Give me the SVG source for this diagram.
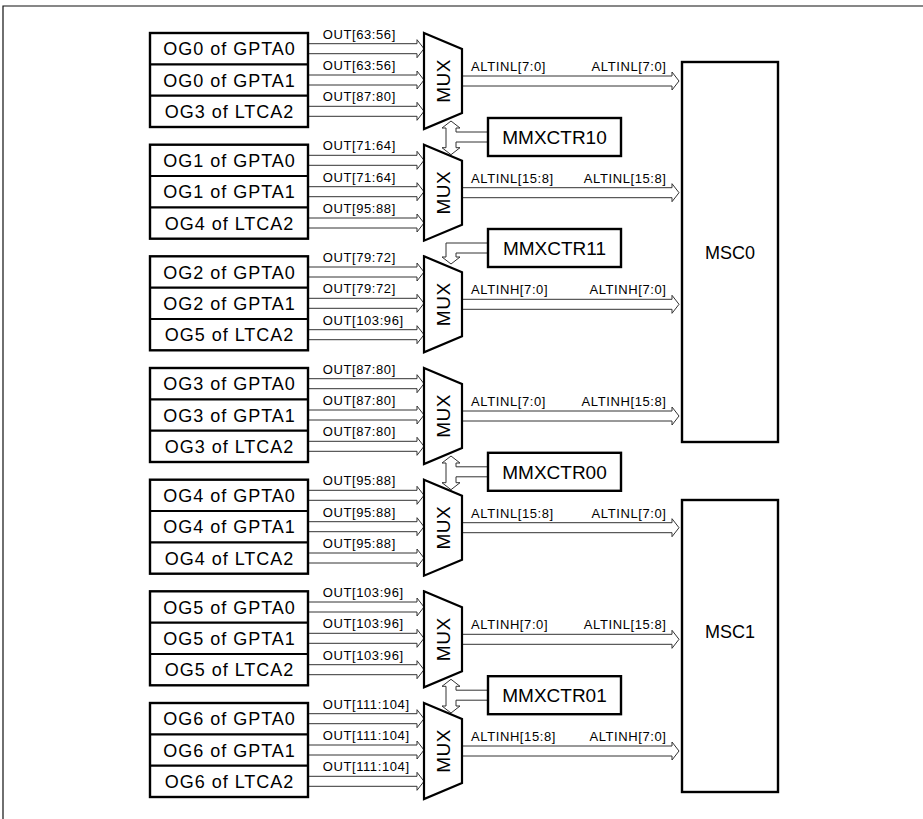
<svg xmlns="http://www.w3.org/2000/svg" width="923" height="819" viewBox="0 0 923 819">
<style>
.frame{fill:none;stroke:#111;stroke-width:1.2}
.box{fill:#fff;stroke:#000;stroke-width:2.4}
.div{stroke:#000;stroke-width:2.2}
.mux{fill:#fff;stroke:#000;stroke-width:2.2;stroke-linejoin:miter}
.bus{fill:#fff;stroke:#333;stroke-width:1}
text{font-family:"Liberation Sans",Arial,sans-serif;fill:#000}
.og{font-size:18px;letter-spacing:1px;text-anchor:middle}
.sm{font-size:13px;letter-spacing:0.6px}
.end{text-anchor:end}
.mx{font-size:19px;letter-spacing:0.5px;text-anchor:middle}
.ctr{font-size:19px;text-anchor:middle}
.msc{font-size:18px;text-anchor:middle}
</style>
<path class="frame" d="M3,819 V6 H923"/>

<g id="connectors">
<path class="bus" d="M309,43.7 H417 V39.7 L424,48.7 L417,57.7 V53.7 H309"/>
<path class="bus" d="M309,75 H417 V71 L424,80 L417,89 V85 H309"/>
<path class="bus" d="M309,106.3 H417 V102.3 L424,111.3 L417,120.3 V116.3 H309"/>
<path class="bus" d="M309,155.3 H417 V151.3 L424,160.3 L417,169.3 V165.3 H309"/>
<path class="bus" d="M309,186.7 H417 V182.7 L424,191.7 L417,200.7 V196.7 H309"/>
<path class="bus" d="M309,218 H417 V214 L424,223 L417,232 V228 H309"/>
<path class="bus" d="M309,267 H417 V263 L424,272 L417,281 V277 H309"/>
<path class="bus" d="M309,298.3 H417 V294.3 L424,303.3 L417,312.3 V308.3 H309"/>
<path class="bus" d="M309,329.7 H417 V325.7 L424,334.7 L417,343.7 V339.7 H309"/>
<path class="bus" d="M309,378.7 H417 V374.7 L424,383.7 L417,392.7 V388.7 H309"/>
<path class="bus" d="M309,410 H417 V406 L424,415 L417,424 V420 H309"/>
<path class="bus" d="M309,441.3 H417 V437.3 L424,446.3 L417,455.3 V451.3 H309"/>
<path class="bus" d="M309,490.3 H417 V486.3 L424,495.3 L417,504.3 V500.3 H309"/>
<path class="bus" d="M309,521.7 H417 V517.7 L424,526.7 L417,535.7 V531.7 H309"/>
<path class="bus" d="M309,553 H417 V549 L424,558 L417,567 V563 H309"/>
<path class="bus" d="M309,602 H417 V598 L424,607 L417,616 V612 H309"/>
<path class="bus" d="M309,633.3 H417 V629.3 L424,638.3 L417,647.3 V643.3 H309"/>
<path class="bus" d="M309,664.7 H417 V660.7 L424,669.7 L417,678.7 V674.7 H309"/>
<path class="bus" d="M309,713.7 H417 V709.7 L424,718.7 L417,727.7 V723.7 H309"/>
<path class="bus" d="M309,745 H417 V741 L424,750 L417,759 V755 H309"/>
<path class="bus" d="M309,776.3 H417 V772.3 L424,781.3 L417,790.3 V786.3 H309"/>

<path class="bus" d="M463,76 H672 V72 L679,81 L672,90 V86 H463"/>
<path class="bus" d="M463,187.7 H672 V183.7 L679,192.7 L672,201.7 V197.7 H463"/>
<path class="bus" d="M463,299.3 H672 V295.3 L679,304.3 L672,313.3 V309.3 H463"/>
<path class="bus" d="M463,411 H672 V407 L679,416 L672,425 V421 H463"/>
<path class="bus" d="M463,522.7 H672 V518.7 L679,527.7 L672,536.7 V532.7 H463"/>
<path class="bus" d="M463,634.3 H672 V630.3 L679,639.3 L672,648.3 V644.3 H463"/>
<path class="bus" d="M463,746 H672 V742 L679,751 L672,760 V756 H463"/>

<path class="bus" d="M488,132 H456 V128 H460 L451,121 L442,128 H446 V147.7 H442 L451,154.7 L460,147.7 H456 V142 H488"/>
<path class="bus" d="M488,243 H446 V257 H442 L451,264 L460,257 H456 V253 H488"/>
<path class="bus" d="M488,466.8 H456 V463 H460 L451,456 L442,463 H446 V482.7 H442 L451,489.7 L460,482.7 H456 V476.8 H488"/>
<path class="bus" d="M488,690.2 H456 V686.3 H460 L451,679.3 L442,686.3 H446 V706 H442 L451,713 L460,706 H456 V700.2 H488"/>

<text class="sm" x="322.7" y="38.7">OUT[63:56]</text>
<text class="sm" x="322.7" y="70">OUT[63:56]</text>
<text class="sm" x="322.7" y="101.3">OUT[87:80]</text>
<text class="sm" x="322.7" y="150.3">OUT[71:64]</text>
<text class="sm" x="322.7" y="181.7">OUT[71:64]</text>
<text class="sm" x="322.7" y="213">OUT[95:88]</text>
<text class="sm" x="322.7" y="262">OUT[79:72]</text>
<text class="sm" x="322.7" y="293.3">OUT[79:72]</text>
<text class="sm" x="322.7" y="324.7">OUT[103:96]</text>
<text class="sm" x="322.7" y="373.7">OUT[87:80]</text>
<text class="sm" x="322.7" y="405">OUT[87:80]</text>
<text class="sm" x="322.7" y="436.3">OUT[87:80]</text>
<text class="sm" x="322.7" y="485.3">OUT[95:88]</text>
<text class="sm" x="322.7" y="516.7">OUT[95:88]</text>
<text class="sm" x="322.7" y="548">OUT[95:88]</text>
<text class="sm" x="322.7" y="597">OUT[103:96]</text>
<text class="sm" x="322.7" y="628.3">OUT[103:96]</text>
<text class="sm" x="322.7" y="659.7">OUT[103:96]</text>
<text class="sm" x="322.7" y="708.7">OUT[111:104]</text>
<text class="sm" x="322.7" y="740">OUT[111:104]</text>
<text class="sm" x="322.7" y="771.3">OUT[111:104]</text>

<text class="sm" x="471" y="71">ALTINL[7:0]</text>
<text class="sm end" x="666.6" y="71">ALTINL[7:0]</text>
<text class="sm" x="471" y="182.7">ALTINL[15:8]</text>
<text class="sm end" x="666.6" y="182.7">ALTINL[15:8]</text>
<text class="sm" x="471" y="294.3">ALTINH[7:0]</text>
<text class="sm end" x="666.6" y="294.3">ALTINH[7:0]</text>
<text class="sm" x="471" y="406">ALTINL[7:0]</text>
<text class="sm end" x="666.6" y="406">ALTINH[15:8]</text>
<text class="sm" x="471" y="517.7">ALTINL[15:8]</text>
<text class="sm end" x="666.6" y="517.7">ALTINL[7:0]</text>
<text class="sm" x="471" y="629.3">ALTINH[7:0]</text>
<text class="sm end" x="666.6" y="629.3">ALTINL[15:8]</text>
<text class="sm" x="471" y="741">ALTINH[15:8]</text>
<text class="sm end" x="666.6" y="741">ALTINH[7:0]</text>
</g>

<g id="src0">
<rect class="box" x="150" y="33" width="158" height="94"/>
<line class="div" x1="150" y1="64.3" x2="308" y2="64.3"/>
<line class="div" x1="150" y1="95.7" x2="308" y2="95.7"/>
<text class="og" x="229.5" y="55.2">OG0 of GPTA0</text>
<text class="og" x="229.5" y="86.5">OG0 of GPTA1</text>
<text class="og" x="229.5" y="117.8">OG3 of LTCA2</text>
</g>
<g id="src1">
<rect class="box" x="150" y="144.7" width="158" height="94"/>
<line class="div" x1="150" y1="176" x2="308" y2="176"/>
<line class="div" x1="150" y1="207.3" x2="308" y2="207.3"/>
<text class="og" x="229.5" y="166.8">OG1 of GPTA0</text>
<text class="og" x="229.5" y="198.2">OG1 of GPTA1</text>
<text class="og" x="229.5" y="229.5">OG4 of LTCA2</text>
</g>
<g id="src2">
<rect class="box" x="150" y="256.3" width="158" height="94"/>
<line class="div" x1="150" y1="287.7" x2="308" y2="287.7"/>
<line class="div" x1="150" y1="319" x2="308" y2="319"/>
<text class="og" x="229.5" y="278.5">OG2 of GPTA0</text>
<text class="og" x="229.5" y="309.8">OG2 of GPTA1</text>
<text class="og" x="229.5" y="341.2">OG5 of LTCA2</text>
</g>
<g id="src3">
<rect class="box" x="150" y="368" width="158" height="94"/>
<line class="div" x1="150" y1="399.3" x2="308" y2="399.3"/>
<line class="div" x1="150" y1="430.7" x2="308" y2="430.7"/>
<text class="og" x="229.5" y="390.2">OG3 of GPTA0</text>
<text class="og" x="229.5" y="421.5">OG3 of GPTA1</text>
<text class="og" x="229.5" y="452.8">OG3 of LTCA2</text>
</g>
<g id="src4">
<rect class="box" x="150" y="479.7" width="158" height="94"/>
<line class="div" x1="150" y1="511" x2="308" y2="511"/>
<line class="div" x1="150" y1="542.3" x2="308" y2="542.3"/>
<text class="og" x="229.5" y="501.8">OG4 of GPTA0</text>
<text class="og" x="229.5" y="533.2">OG4 of GPTA1</text>
<text class="og" x="229.5" y="564.5">OG4 of LTCA2</text>
</g>
<g id="src5">
<rect class="box" x="150" y="591.3" width="158" height="94"/>
<line class="div" x1="150" y1="622.7" x2="308" y2="622.7"/>
<line class="div" x1="150" y1="654" x2="308" y2="654"/>
<text class="og" x="229.5" y="613.5">OG5 of GPTA0</text>
<text class="og" x="229.5" y="644.8">OG5 of GPTA1</text>
<text class="og" x="229.5" y="676.2">OG5 of LTCA2</text>
</g>
<g id="src6">
<rect class="box" x="150" y="703" width="158" height="94"/>
<line class="div" x1="150" y1="734.3" x2="308" y2="734.3"/>
<line class="div" x1="150" y1="765.7" x2="308" y2="765.7"/>
<text class="og" x="229.5" y="725.2">OG6 of GPTA0</text>
<text class="og" x="229.5" y="756.5">OG6 of GPTA1</text>
<text class="og" x="229.5" y="787.8">OG6 of LTCA2</text>
</g>

<g id="mux0"><polygon class="mux" points="424,33 462,49 462,113 424,129"/><text class="mx" transform="translate(449.5,81) rotate(-90)">MUX</text></g>
<g id="mux1"><polygon class="mux" points="424,144.7 462,160.7 462,224.7 424,240.7"/><text class="mx" transform="translate(449.5,192.7) rotate(-90)">MUX</text></g>
<g id="mux2"><polygon class="mux" points="424,256.3 462,272.3 462,336.3 424,352.3"/><text class="mx" transform="translate(449.5,304.3) rotate(-90)">MUX</text></g>
<g id="mux3"><polygon class="mux" points="424,368 462,384 462,448 424,464"/><text class="mx" transform="translate(449.5,416) rotate(-90)">MUX</text></g>
<g id="mux4"><polygon class="mux" points="424,479.7 462,495.7 462,559.7 424,575.7"/><text class="mx" transform="translate(449.5,527.7) rotate(-90)">MUX</text></g>
<g id="mux5"><polygon class="mux" points="424,591.3 462,607.3 462,671.3 424,687.3"/><text class="mx" transform="translate(449.5,639.3) rotate(-90)">MUX</text></g>
<g id="mux6"><polygon class="mux" points="424,703 462,719 462,783 424,799"/><text class="mx" transform="translate(449.5,751) rotate(-90)">MUX</text></g>

<g id="mmxctr10"><rect class="box" x="488" y="118" width="133" height="38"/><text class="ctr" x="554.5" y="144">MMXCTR10</text></g>
<g id="mmxctr11"><rect class="box" x="488" y="229" width="133" height="38"/><text class="ctr" x="554.5" y="255">MMXCTR11</text></g>
<g id="mmxctr00"><rect class="box" x="488" y="452.8" width="133" height="38"/><text class="ctr" x="554.5" y="478.8">MMXCTR00</text></g>
<g id="mmxctr01"><rect class="box" x="488" y="676.2" width="133" height="38"/><text class="ctr" x="554.5" y="702.2">MMXCTR01</text></g>

<g id="msc0"><rect class="box" x="682" y="62" width="96" height="380"/><text class="msc" x="730" y="259">MSC0</text></g>
<g id="msc1"><rect class="box" x="682" y="500" width="96" height="292"/><text class="msc" x="730" y="638">MSC1</text></g>
</svg>
